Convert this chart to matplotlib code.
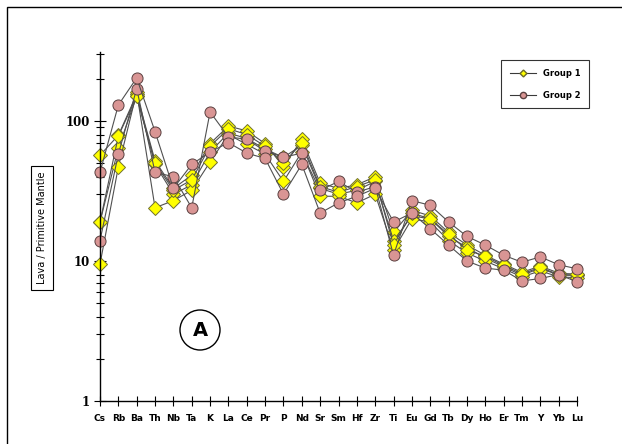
import matplotlib
matplotlib.use("Agg")
import matplotlib.pyplot as plt
from matplotlib.patches import Rectangle, Ellipse
from matplotlib.lines import Line2D
from matplotlib.ticker import LogLocator, NullFormatter, FixedLocator, FixedFormatter

elements = ["Cs", "Rb", "Ba", "Th", "Nb", "Ta", "K", "La", "Ce", "Pr", "P", "Nd", "Sr",
            "Sm", "Hf", "Zr", "Ti", "Eu", "Gd", "Tb", "Dy", "Ho", "Er", "Tm", "Y", "Yb", "Lu"]

group1_a = [57, 79, 155, 52, 33, 41, 69, 92, 85, 69, 47, 74, 36, 33, 35, 40, 16, 23, 21, 16, 13, 11, 9.5, 8.3, 9.2, 8.2, 8.0]
group1_b = [19, 64, 150, 49, 30, 35, 60, 82, 75, 63, 55, 67, 33, 30, 32, 37, 14, 21, 20, 15, 12.5, 10.5, 9.1, 7.9, 8.9, 7.9, 7.9]
group1_c = [9.5, 47, 160, 24, 27, 32, 51, 80, 68, 58, 37, 60, 29, 29, 26, 30, 12, 20, 19, 14, 11.4, 10, 8.8, 7.7, 8.5, 7.7, 7.6]
group1_d = [19, 78, 150, 50, 32, 38, 66, 88, 80, 66, 50, 70, 34, 31, 34, 38, 13, 22, 20, 15.5, 12, 10.8, 9.3, 8.1, 9.0, 8.0, 8.1]

group2_a = [14, 58, 170, 43, 40, 24, 116, 77, 74, 61, 55, 59, 32, 37, 31, 34, 11, 27, 25, 19, 15, 13, 11, 9.8, 10.7, 9.4, 8.8]
group2_b = [43, 130, 203, 84, 33, 49, 60, 70, 59, 54, 30, 49, 22, 26, 29, 33, 19, 22, 17, 13, 10, 8.9, 8.6, 7.2, 7.5, 8.0, 7.1]

group1 = [group1_a, group1_b, group1_c, group1_d]
group2 = [group2_a, group2_b]

fig = plt.figure(figsize=(6.22, 4.44), dpi=100)
W, H = 622, 444
ax = fig.add_axes([100 / W, 1 - 401 / H, (577 - 100) / W, (401 - 52) / H])

x = list(range(len(elements)))
line_kw = dict(color="#505050", lw=0.8, zorder=2, clip_on=False)
for s in group1:
    ax.plot(x, s, marker="D", ms=7, mfc="#FFFF00", mec="#707030", mew=0.7, **line_kw)
for s in group2:
    ax.plot(x, s, marker="o", ms=8, mfc="#D99594", mec="#5a4040", mew=0.7, **line_kw)

ax.set_yscale("log")
ax.set_ylim(1, 311)
ax.set_xlim(0, len(elements) - 1)

for sp in ["top", "right"]:
    ax.spines[sp].set_visible(False)
for sp in ["left", "bottom"]:
    ax.spines[sp].set_color("black")
    ax.spines[sp].set_linewidth(1.0)

ax.yaxis.set_major_locator(FixedLocator([1, 10, 100]))
ax.yaxis.set_major_formatter(FixedFormatter(["1", "10", "100"]))
ax.yaxis.set_minor_locator(LogLocator(base=10, subs=range(2, 10)))
ax.yaxis.set_minor_formatter(NullFormatter())
ax.tick_params(axis="y", which="major", direction="inout", length=8, width=0.8,
               labelsize=8.5)
ax.tick_params(axis="y", which="minor", direction="inout", length=6, width=0.8)
for lab in ax.get_yticklabels():
    lab.set_fontweight("bold")
    lab.set_family("DejaVu Serif")

ax.set_xticks(x)
ax.set_xticklabels(elements, fontsize=6.5, fontweight="bold")
ax.tick_params(axis="x", direction="inout", length=7, width=0.8, pad=6)

# Y label in a box
fig.text(42 / W, 1 - 228 / H, "Lava / Primitive Mantle", rotation=90, ha="center", va="center",
         fontsize=7, bbox=dict(boxstyle="square,pad=0.6", fc="white", ec="black", lw=0.8))

# Legend
handles = [Line2D([0], [0], color="#3a3a3a", lw=0.8, marker="D", ms=3.5, mfc="#FFFF00", mec="#6b6b2a"),
           Line2D([0], [0], color="#3a3a3a", lw=0.8, marker="o", ms=4.5, mfc="#D99594", mec="#5a4040")]
leg = fig.legend(handles, ["Group 1", "Group 2"], loc="upper left",
                 bbox_to_anchor=(497 / W, 1 - 56 / H), frameon=True, fancybox=False,
                 edgecolor="black", prop=dict(size=6, weight="bold"), handlelength=3.2,
                 labelspacing=1.6, borderpad=1.0)
leg.get_frame().set_linewidth(0.8)

# "A" circle
ell = Ellipse((200 / W, 1 - 330 / H), 40 / W, 40 / H, transform=fig.transFigure, fc="white",
              ec="black", lw=1.0, zorder=5)
fig.patches.append(ell)
fig.text(200 / W, 1 - 330 / H, "A", ha="center", va="center", fontsize=14, fontweight="bold",
         zorder=6)

# Outer border
border = Rectangle((7 / W, -0.05), 1.1, 1 - 7 / H + 0.05, transform=fig.transFigure,
                   fill=False, ec="black", lw=1.0)
fig.patches.append(border)

fig.savefig("out.png", dpi=100)
